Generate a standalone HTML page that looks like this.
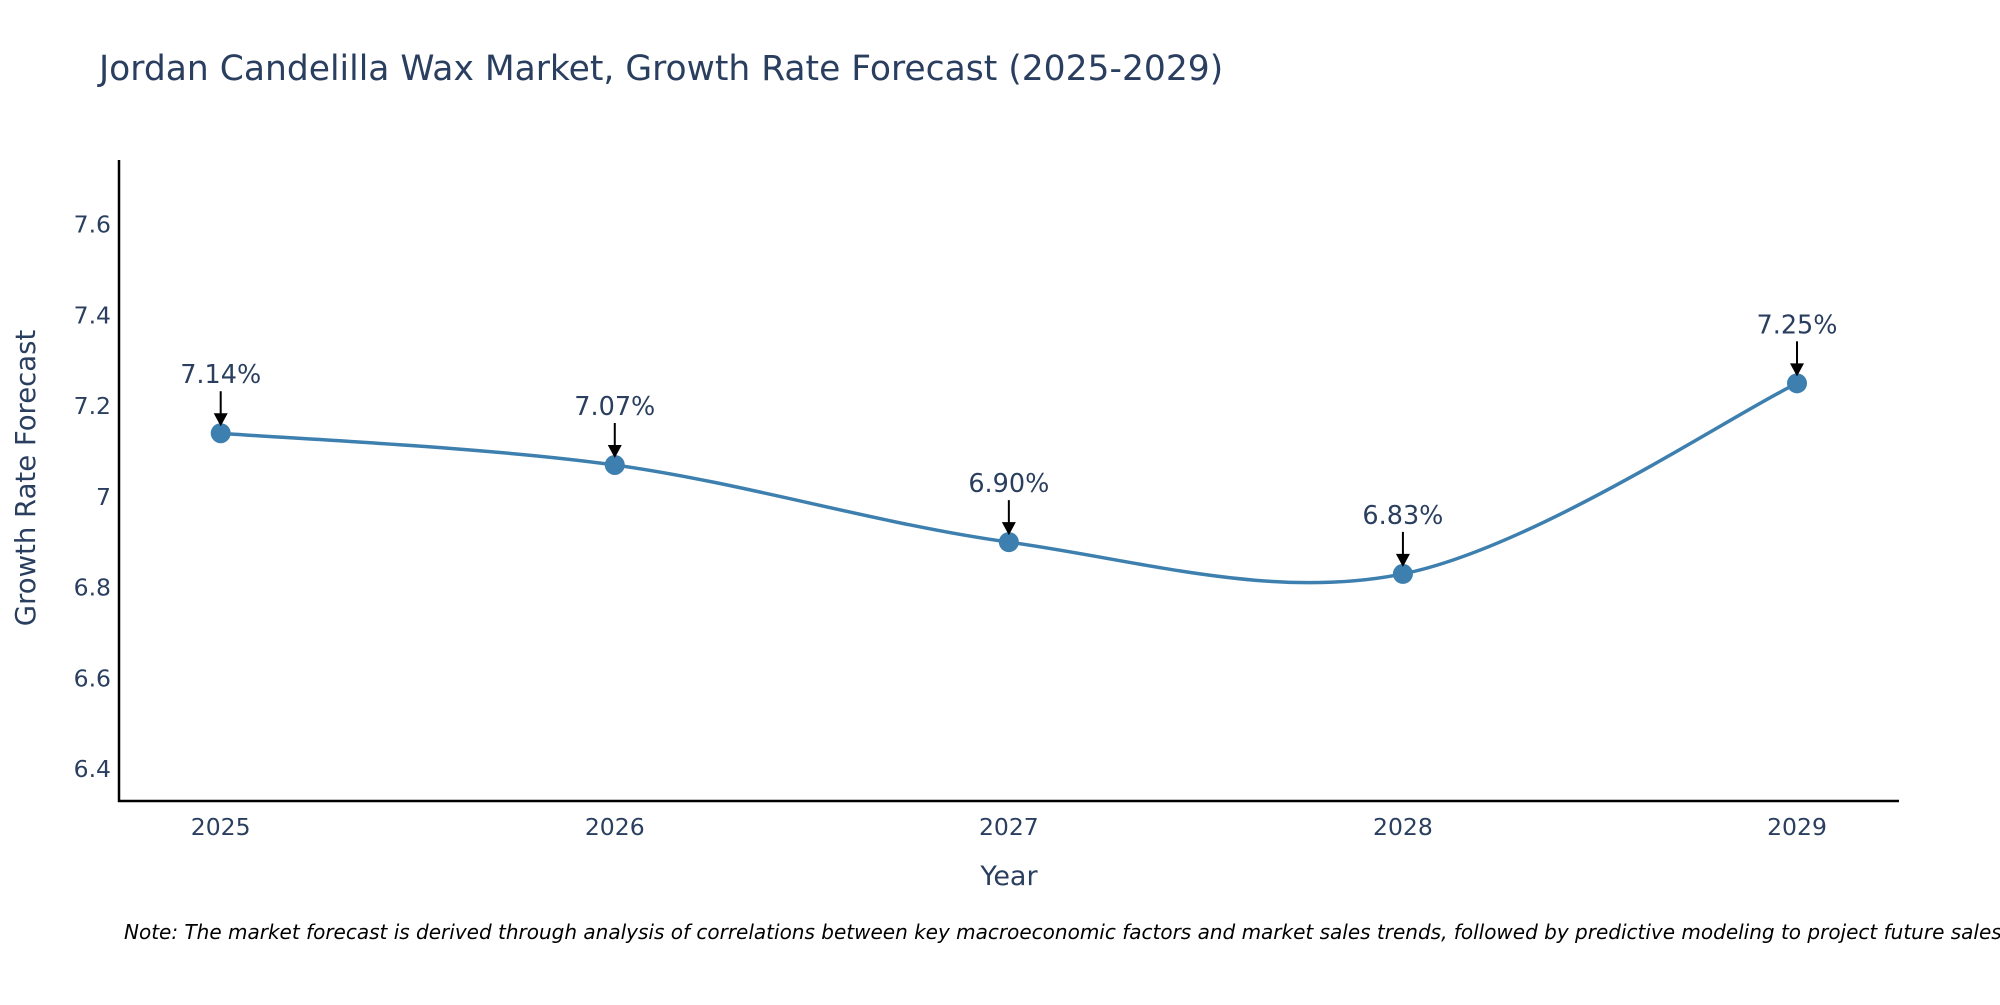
<!DOCTYPE html>
<html><head><meta charset="utf-8"><style>
html,body{margin:0;padding:0;background:#fff;}
svg text{font-family:"DejaVu Sans","Liberation Sans",sans-serif;fill:#2a3f5f;}
</style></head><body>
<svg id="chart" width="2000" height="1000" xmlns="http://www.w3.org/2000/svg">
<text x="99" y="80" font-size="34.5">Jordan Candelilla Wax Market, Growth Rate Forecast (2025-2029)</text>
<g id="yticks"></g><g id="xticks"></g>
<line x1="119" y1="160" x2="119" y2="802" stroke="#000" stroke-width="2.5"/>
<line x1="118" y1="801" x2="1899" y2="801" stroke="#000" stroke-width="2.5"/>
<text transform="translate(35,478) rotate(-90)" text-anchor="middle" font-size="27.5">Growth Rate Forecast</text>
<text x="1009" y="885" text-anchor="middle" font-size="27">Year</text>
<g id="series"></g>
<text x="124" y="939" font-size="20" font-style="italic" style="fill:#000">Note: The market forecast is derived through analysis of correlations between key macroeconomic factors and market sales trends, followed by predictive modeling to project future sales.</text>
</svg>
<script>
const years=[2025,2026,2027,2028,2029];
const values=[7.14,7.07,6.90,6.83,7.25];
const labels=["7.14%","7.07%","6.90%","6.83%","7.25%"];
const yTicks=[6.4,6.6,6.8,7,7.2,7.4,7.6];
const yTickLabels=["6.4","6.6","6.8","7","7.2","7.4","7.6"];
const NS="http://www.w3.org/2000/svg";
const xs=v=>220.7+(v-2025)*(1797-220.7)/4;
const ys=v=>224.5+(7.6-v)*(769-224.5)/1.2;
function mk(t,a,p){const e=document.createElementNS(NS,t);for(const k in a)e.setAttribute(k,a[k]);p.appendChild(e);return e;}
const yt=document.getElementById('yticks');
yTicks.forEach((v,i)=>{const t=mk('text',{x:111,y:ys(v)+8,'text-anchor':'end','font-size':23.5},yt);t.textContent=yTickLabels[i];

});
const xt=document.getElementById('xticks');
years.forEach(v=>{const t=mk('text',{x:xs(v),y:835,'text-anchor':'middle','font-size':23.5},xt);t.textContent=v;

});
const s=document.getElementById('series');
const pts=years.map((y,i)=>[xs(y),ys(values[i])]);
let d=`M${pts[0][0]},${pts[0][1]}`;
for(let i=0;i<pts.length-1;i++){const p0=pts[Math.max(0,i-1)],p1=pts[i],p2=pts[i+1],p3=pts[Math.min(pts.length-1,i+2)];
const k=1/6;d+=` C${p1[0]+(p2[0]-p0[0])*k},${p1[1]+(p2[1]-p0[1])*k} ${p2[0]-(p3[0]-p1[0])*k},${p2[1]-(p3[1]-p1[1])*k} ${p2[0]},${p2[1]}`;}
const line=mk('path',{d:d,fill:'none',stroke:'#3d7fae','stroke-width':3.5},s);


pts.forEach((p,i)=>{
const c=mk('circle',{cx:p[0],cy:p[1],r:10,fill:'#3d7fae'},s);


const a=mk('line',{x1:p[0],y1:p[1]-42,x2:p[0],y2:p[1]-18,stroke:'#000','stroke-width':2},s);


const h=mk('polygon',{points:`${p[0]-7},${p[1]-20} ${p[0]+7},${p[1]-20} ${p[0]},${p[1]-7}`,fill:'#000'},s);


const t=mk('text',{x:p[0],y:p[1]-50,'text-anchor':'middle','font-size':25.5},s);t.textContent=labels[i];

});
</script>
</body></html>
